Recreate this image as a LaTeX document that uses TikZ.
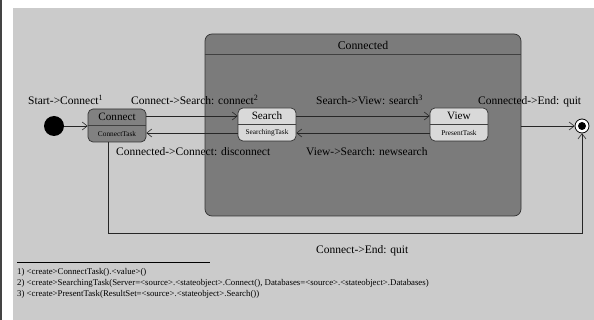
\documentclass[tikz,border=0pt]{standalone}
\usepackage{fontspec}
\setmainfont{Liberation Serif}
\usetikzlibrary{arrows.meta}
\definecolor{bggray}{HTML}{CBCBCB}
\definecolor{compgray}{HTML}{7B7B7B}
\definecolor{stategray}{HTML}{D9D9D9}
\definecolor{darkstate}{HTML}{818181}
\definecolor{edgegray}{HTML}{444444}
\tikzset{
  state/.style={draw=black!80, line width=0.7pt, rounded corners=5pt,
    minimum width=58pt, minimum height=33pt, inner sep=0pt},
  divider/.style={draw=black!75, line width=0.7pt},
  trans/.style={draw=black!85, line width=0.6pt,
    -{Straight Barb[length=5pt,width=8pt,line width=0.6pt]}},
  lbl/.style={font=\fontsize{11.5}{13}\selectfont, inner sep=0pt, anchor=base west},
  title/.style={font=\fontsize{11.2}{13}\selectfont, inner sep=0pt},
  task/.style={font=\fontsize{7.3}{8}\selectfont, inner sep=0pt},
  note/.style={font=\fontsize{8.8}{10}\selectfont, inner sep=0pt, anchor=base west}
}
\begin{document}
\begin{tikzpicture}[x=1pt,y=-1pt]
% page frame
\useasboundingbox (0,0) rectangle (594,320);
\fill[white] (0,0) rectangle (594,320);
\fill[edgegray] (0,0) rectangle (2,320);
\fill[bggray] (13,8) rectangle (594,320);

% composite state
\node[state, rounded corners=7pt, fill=compgray, minimum width=316pt, minimum height=182pt]
  (connected) at (363,125) {};
\draw[divider] (connected.west |- 0,54) -- (connected.east |- 0,54);
\node[title, font=\fontsize{11.8}{13}\selectfont] (connectedtitle) at (363,45) {Connected};

% initial and final states
\node[circle, fill=black, minimum size=20pt, inner sep=0pt] (start) at (54,126) {};
\node[circle, draw=black, line width=0.8pt, fill=white, minimum size=14pt, inner sep=0pt] (end) at (582,126) {};
\node[circle, fill=black, minimum size=8pt, inner sep=0pt] (enddot) at (582,126) {};

% simple states
\node[state, fill=darkstate] (connect) at (117,125.5) {};
\draw[divider] (connect.west |- 0,125) -- (connect.east |- 0,125);
\node[title] (connectname) at (117,117) {Connect};
\node[task] (connecttask) at (117,134) {ConnectTask};

\node[state, fill=stategray] (search) at (267,124.5) {};
\draw[divider] (search.west |- 0,124) -- (search.east |- 0,124);
\node[title] (searchname) at (267,116) {Search};
\node[task] (searchtask) at (267,133) {SearchingTask};

\node[state, fill=stategray] (view) at (459,124.5) {};
\draw[divider] (view.west |- 0,124) -- (view.east |- 0,124);
\node[title] (viewname) at (459,116) {View};
\node[task] (viewtask) at (459,133) {PresentTask};

% transitions
\draw[trans] (start) -- (connect.west |- start);
\draw[trans] (connect.east |- 0,116) -- (search.west |- 0,116);
\draw[trans] (search.west |- 0,133) -- (connect.east |- 0,133);
\draw[trans] (search.east |- 0,116) -- (view.west |- 0,116);
\draw[trans] (view.west |- 0,133) -- (search.east |- 0,133);
\draw[trans] (connected.east |- end) -- (end);
\coordinate (c1) at (108,233);
\coordinate (c2) at (582,233);
\draw[trans] (connect.south -| c1) -- (c1) -- (c2) -- (end.south);

% transition labels
\node[lbl] (l1) at (28,105) {Start->Connect\textsuperscript{1}};
\node[lbl] (l2) at (131,105) {Connect->Search: connect\textsuperscript{2}};
\node[lbl] (l3) at (116,156) {Connected->Connect: disconnect};
\node[lbl] (l4) at (316,105) {Search->View: search\textsuperscript{3}};
\node[lbl] (l5) at (306,156) {View->Search: newsearch};
\node[lbl] (l6) at (478,105) {Connected->End: quit};
\node[lbl] (l7) at (316,254) {Connect->End: quit};

% footnotes
\coordinate (r1) at (17,262);
\coordinate (r2) at (210,262);
\draw[line width=0.5pt] (r1) -- (r2);
\node[note] (n1) at (17,274) {1) <create>ConnectTask().<value>()};
\node[note] (n2) at (17,285.5) {2) <create>SearchingTask(Server=<source>.<stateobject>.Connect(), Databases=<source>.<stateobject>.Databases)};
\node[note] (n3) at (17,297) {3) <create>PresentTask(ResultSet=<source>.<stateobject>.Search())};
\end{tikzpicture}
\end{document}
